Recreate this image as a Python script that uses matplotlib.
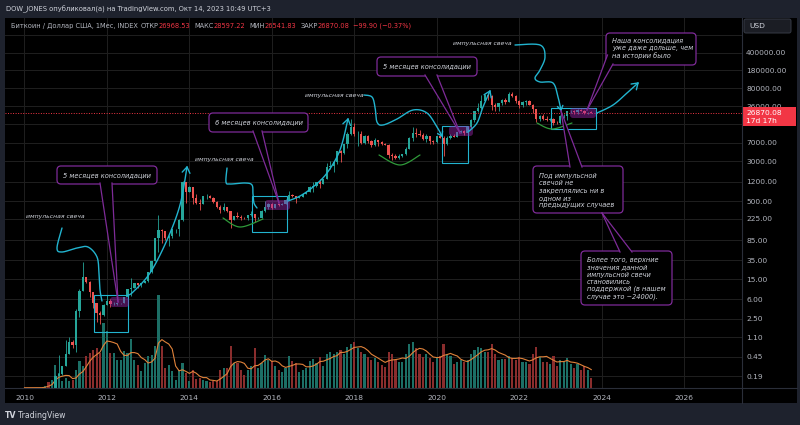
import numpy as np
import pandas as pd
import matplotlib
matplotlib.use("Agg")
import matplotlib.pyplot as plt
from matplotlib.patches import FancyBboxPatch, Rectangle, Polygon
from matplotlib.ticker import NullLocator

plt.rcParams['font.family'] = ['DejaVu Sans']

# ---------------- data (monthly candles, BTC/USD index) ----------------
START_MONTH = "2010-01-01"
opens = [0.003, 0.004, 0.004, 0.004, 0.005, 0.006,
         0.05, 0.07, 0.06, 0.06, 0.19, 0.21,
         0.30, 0.52, 0.86, 0.78, 3.50, 8.74, 16.10, 13.40, 8.20, 5.10, 3.25, 2.97,
         4.72, 5.50, 4.90, 4.90, 5.00, 5.15, 6.70, 9.35, 10.20, 12.40, 11.20, 12.60,
         13.50, 20.40, 33.40, 93.0, 139.0, 129.0, 97.0, 106.0, 141.0, 141.0, 211.0, 1205.0,
         757, 935, 573, 457, 447, 628, 640, 586, 480, 387, 338, 378,
         320, 217, 254, 244, 236, 230, 263, 285, 231, 236, 314, 377,
         430, 369, 437, 416, 448, 531, 673, 624, 573, 609, 700, 742,
         964, 970, 1190, 1080, 1348, 2300, 2480, 2875, 4703, 4338, 6468, 10233,
         14156, 10221, 10397, 6973, 9240, 7494, 6404, 7730, 7033, 6635, 6318, 4017,
         3742, 3457, 3854, 4105, 5350, 8574, 10817, 10086, 9630, 8293, 9199, 7569,
         7193, 9350, 8544, 6424, 8658, 9461, 9137, 11351, 11655, 10779, 13804, 19625,
         28949, 33114, 45137, 58918, 57750, 37332, 35040, 41626, 47166, 43790, 61318, 57005,
         46306, 38483, 43193, 45538, 37714, 31792, 19784, 23336, 20050, 19432, 20495, 17168,
         16548, 23139, 23147, 28478, 29268, 27219, 30477, 29230, 25940, 26968.53]
highs = [0.004, 0.005, 0.005, 0.006, 0.007, 0.06,
         0.10, 0.07, 0.07, 0.20, 0.50, 0.30,
         0.95, 1.10, 0.98, 3.90, 9.50, 31.90, 16.50, 13.50, 8.50, 5.20, 3.60, 4.80,
         7.40, 6.20, 5.40, 5.20, 5.20, 6.70, 9.70, 15.40, 12.70, 12.60, 12.80, 13.80,
         20.40, 33.40, 95.0, 266.0, 140.0, 130.0, 110.0, 141.0, 145.0, 220.0, 1242.0, 1156.0,
         1000, 940, 700, 545, 630, 680, 660, 600, 500, 415, 460, 380,
         320, 260, 300, 262, 247, 268, 318, 285, 245, 336, 500, 470,
         465, 443, 440, 467, 553, 780, 705, 627, 613, 720, 755, 975,
         1160, 1210, 1350, 1350, 2760, 3000, 2990, 4770, 5000, 6470, 11500, 19800,
         17200, 11800, 11700, 9800, 10000, 7760, 8500, 7760, 7400, 7000, 6600, 4400,
         4100, 4200, 4150, 5640, 9090, 13880, 13200, 12330, 10950, 10400, 9500, 7750,
         9600, 10500, 9200, 9470, 10070, 10430, 11440, 12480, 12080, 14100, 19880, 29300,
         41950, 58350, 61800, 64900, 59600, 41300, 42400, 50500, 52900, 67000, 69000, 59100,
         48000, 45800, 48200, 47500, 40000, 31900, 24700, 25200, 22800, 21100, 21450, 18400,
         23950, 25250, 29200, 31000, 29800, 31400, 31800, 30200, 27500, 28597.22]
lows = [0.003, 0.003, 0.004, 0.003, 0.004, 0.005,
        0.05, 0.06, 0.06, 0.06, 0.19, 0.20,
        0.30, 0.52, 0.68, 0.56, 2.70, 8.70, 12.50, 6.60, 4.10, 2.20, 2.00, 2.80,
        4.60, 4.20, 4.60, 4.70, 4.90, 5.20, 6.50, 7.10, 9.80, 9.80, 10.30, 12.30,
        13.20, 19.30, 33.0, 50.0, 77.0, 88.0, 66.0, 97.0, 119.0, 106.0, 204.0, 455.0,
        740, 430, 440, 340, 430, 560, 565, 450, 370, 290, 320, 310,
        152, 212, 236, 214, 228, 218, 253, 198, 224, 236, 310, 350,
        352, 363, 400, 413, 445, 525, 606, 470, 570, 607, 680, 740,
        750, 940, 890, 1060, 1340, 2130, 1830, 2670, 2970, 4150, 5500, 9700,
        9200, 5900, 6600, 6500, 7000, 5780, 6070, 5880, 6130, 6200, 3500, 3150,
        3350, 3400, 3700, 4080, 5330, 7500, 9100, 9350, 7700, 7300, 6530, 6430,
        6850, 8400, 3850, 6150, 8100, 8900, 8970, 11000, 9880, 10530, 13200, 17600,
        28000, 32300, 45000, 47000, 30000, 28800, 29300, 37300, 39600, 43300, 53300, 42000,
        32900, 34300, 37200, 37600, 26600, 17600, 18800, 19600, 18150, 18200, 15500, 16300,
        16500, 21400, 19600, 26950, 25800, 24800, 28900, 25200, 24900, 26541.83]
closes = [0.004, 0.004, 0.004, 0.005, 0.006, 0.05,
          0.07, 0.06, 0.06, 0.19, 0.21, 0.30,
          0.52, 0.86, 0.78, 3.50, 8.74, 16.10, 13.40, 8.20, 5.10, 3.25, 2.97, 4.72,
          5.50, 4.90, 4.90, 5.00, 5.15, 6.70, 9.35, 10.20, 12.40, 11.20, 12.60, 13.50,
          20.40, 33.40, 93.0, 139.0, 129.0, 97.0, 106.0, 141.0, 141.0, 211.0, 1205.0, 757.0,
          935, 573, 457, 447, 628, 640, 586, 480, 387, 338, 378, 320,
          217, 254, 244, 236, 230, 263, 285, 231, 236, 314, 377, 430,
          369, 437, 416, 448, 531, 673, 624, 573, 609, 700, 742, 964,
          970, 1190, 1080, 1348, 2300, 2480, 2875, 4703, 4338, 6468, 10233, 14156,
          10221, 10397, 6973, 9240, 7494, 6404, 7730, 7033, 6635, 6318, 4017, 3742,
          3457, 3854, 4105, 5350, 8574, 10817, 10086, 9630, 8293, 9199, 7569, 7193,
          9350, 8544, 6424, 8658, 9461, 9137, 11351, 11655, 10779, 13804, 19625, 28949,
          33114, 45137, 58918, 57750, 37332, 35040, 41626, 47166, 43790, 61318, 57005, 46306,
          38483, 43193, 45538, 37714, 31792, 19784, 23336, 20050, 19432, 20495, 17168, 16548,
          23139, 23147, 28478, 29268, 27219, 30477, 29230, 25940, 26967, 26870.08]
# relative volume units
volumes = [0.3, 0.3, 0.3, 0.3, 0.4, 0.5,
           2, 6, 8, 23, 15, 7,
           10, 7, 8, 18, 27, 22, 32, 35, 38, 40, 35, 65,
           57, 35, 35, 28, 28, 37, 35, 49, 28, 23, 17, 25,
           32, 33, 42, 93, 42, 20, 23, 17, 8, 18, 25, 15,
           7, 18, 9, 10, 8, 7, 6, 7, 7, 18, 20, 20,
           42, 25, 25, 18, 13, 18, 22, 40, 20, 25, 33, 28,
           27, 22, 18, 16, 20, 32, 27, 25, 16, 18, 20, 27,
           29, 25, 31, 22, 34, 36, 34, 36, 38, 34, 41, 44,
           46, 40, 36, 34, 31, 28, 30, 26, 23, 21, 36, 34,
           28, 26, 26, 34, 44, 46, 40, 34, 31, 34, 30, 26,
           31, 32, 44, 34, 32, 24, 26, 28, 26, 28, 34, 38,
           41, 40, 36, 36, 44, 34, 28, 29, 29, 32, 30, 28,
           31, 26, 26, 24, 34, 41, 31, 26, 26, 24, 32, 22,
           28, 26, 30, 24, 20, 24, 18, 22, 18, 10]

price_ticks = [0.19, 0.45, 1.10, 2.50, 6.00, 15.0, 35.0, 85.0, 225.0, 500.0, 1200.0,
               3000.0, 7000.0, 16000.0, 36000.0, 80000.0, 180000.0, 400000.0, 900000.0]
hidden_ticks = [16000.0, 900000.0]   # covered by the price label / currency box
year_ticks = [2010, 2012, 2014, 2016, 2018, 2020, 2022, 2024, 2026]
last_price = 26870.08
legend_parts = [("Биткоин / Доллар США, 1Мес, INDEX", "lbl", 3),
                ("ОТКР", "lbl", 0), ("26968.53", "val", 4),
                ("МАКС", "lbl", 0), ("28597.22", "val", 4),
                ("МИН", "lbl", 0), ("26541.83", "val", 4),
                ("ЗАКР", "lbl", 0), ("26870.08", "val", 3),
                ("−99.90 (−0.37%)", "val", 0)]

# ---------------- style ----------------
UP, DN = '#26a69a', '#ef5350'
VUP, VDN = '#1c6f66', '#8a2d2d'
CYAN, PURPLE, GREEN = '#22b4cf', '#7e2b98', '#2f9a3a'
TXT, AXT = '#d1d4dc', '#b2b5be'
W, H = 800, 425

fig = plt.figure(figsize=(8, 4.25), dpi=100, facecolor='#1e222d')

bg = fig.add_axes([0, 0, 1, 1], zorder=-10)
bg.set_xlim(0, W); bg.set_ylim(H, 0); bg.axis('off')
bg.add_patch(Rectangle((5, 18), 792, 385, fc='black', ec='none'))

rect = [5 / W, (H - 388) / H, 737 / W, 370 / H]
XL, XR = 2009.527, 2027.407
YB, YT = 0.1107, 1.91e6

months = pd.date_range(START_MONTH, periods=len(closes), freq='MS')
xs = np.asarray(months.year + (months.month - 1) / 12.0, float)
o = np.array(opens, float); c = np.array(closes, float)
hi = np.array(highs, float); lo = np.array(lows, float)
v = np.array(volumes, float)
up = c >= o

# grid axes
axg = fig.add_axes(rect, zorder=-5)
axg.set_facecolor('none')
axg.set_yscale('log'); axg.set_xlim(XL, XR); axg.set_ylim(YB, YT)
for t in price_ticks:
    axg.axhline(t, color='#1f1f1f', lw=0.7)
for yt in year_ticks:
    axg.axvline(yt, color='#1f1f1f', lw=0.7)
axg.axis('off')

# volume axes
axv = fig.add_axes(rect, zorder=0)
axv.set_facecolor('none')
axv.bar(xs, v, width=0.052, color=np.where(up, VUP, VDN), linewidth=0)
ma = pd.Series(v).rolling(5, min_periods=1).mean()
axv.plot(xs, ma, color='#e0823a', lw=0.8)
axv.set_xlim(XL, XR); axv.set_ylim(0, 370)
axv.axis('off')

# price axes
ax = fig.add_axes(rect, zorder=1)
ax.set_facecolor('none')
ax.set_yscale('log')
ax.set_xlim(XL, XR); ax.set_ylim(YB, YT)
col = np.where(up, UP, DN)
ax.vlines(xs, lo, hi, colors=col, lw=0.6)
blo = np.minimum(o, c); bhi = np.maximum(o, c)
bhi = np.maximum(bhi, blo * 1.012)
ax.bar(xs, bhi - blo, bottom=blo, width=0.055, color=col, linewidth=0)
ax.axhline(last_price, color='#f23645', lw=0.7, ls=(0, (1, 1.6)))
ax.yaxis.tick_right()
ax.set_yticks(price_ticks)
ax.set_yticklabels(["" if t in hidden_ticks else f"{t:.2f}" for t in price_ticks])
ax.yaxis.set_minor_locator(NullLocator())
ax.set_xticks(year_ticks)
ax.set_xticklabels([str(y) for y in year_ticks])
ax.xaxis.set_minor_locator(NullLocator())
ax.tick_params(axis='y', length=0, pad=3, labelsize=5.4, labelcolor=AXT)
ax.tick_params(axis='x', length=0, pad=5, labelsize=5.4, labelcolor=AXT)
for s in ax.spines.values():
    s.set_visible(False)

# ---------------- overlay (pixel coordinates) ----------------
ov = fig.add_axes([0, 0, 1, 1], zorder=10)
ov.set_xlim(0, W); ov.set_ylim(H, 0); ov.axis('off')

ov.plot([742, 742], [18, 403], color='#2a2e39', lw=0.8)
ov.plot([5, 797], [388, 388], color='#2a2e39', lw=0.8)


def catmull(pts, n=16):
    P = np.asarray(pts, float)
    P = np.vstack([P[0], P, P[-1]])
    t = np.linspace(0, 1, n)[:, None]
    segs = []
    for i in range(1, len(P) - 2):
        p0, p1, p2, p3 = P[i - 1], P[i], P[i + 1], P[i + 2]
        segs.append(0.5 * (2 * p1 + (-p0 + p2) * t + (2 * p0 - 5 * p1 + 4 * p2 - p3) * t ** 2
                           + (-p0 + 3 * p1 - 3 * p2 + p3) * t ** 3))
    return np.vstack(segs)


def curve(pts, color=CYAN, lw=1.0, head=False, L=7, ang=34):
    cv = catmull(pts)
    ov.plot(cv[:, 0], cv[:, 1], color=color, lw=lw, solid_capstyle='round')
    if head:
        tip = cv[-1]; prev = cv[-5]
        d = tip - prev; d = d / np.hypot(*d)
        for s in (1, -1):
            a = np.radians(s * ang)
            w = -d
            w = np.array([w[0] * np.cos(a) - w[1] * np.sin(a), w[0] * np.sin(a) + w[1] * np.cos(a)]) * L
            ov.plot([tip[0], tip[0] + w[0]], [tip[1], tip[1] + w[1]], color=color, lw=lw,
                    solid_capstyle='round')


def callout(x0, y0, x1, y1, base, tip, lines, tx=None, ty=None, dy=7.4, center=False, fs=4.8):
    ov.add_patch(FancyBboxPatch((x0, y0), x1 - x0, y1 - y0,
                                boxstyle='round,pad=0,rounding_size=4',
                                fc='black', ec=PURPLE, lw=0.9, zorder=5))
    ov.add_patch(Polygon([base[0], tip, base[1]], closed=True, fc='black', ec='none', zorder=6))
    for b in base:
        ov.plot([b[0], tip[0]], [b[1], tip[1]], color=PURPLE, lw=0.9, zorder=7)
    if center:
        ov.text((x0 + x1) / 2, (y0 + y1) / 2, lines[0], color=TXT, fontsize=fs, style='italic',
                ha='center', va='center', zorder=8)
    else:
        for k, ln in enumerate(lines):
            ov.text(tx, ty + k * dy, ln, color=TXT, fontsize=fs, style='italic',
                    ha='left', va='center', zorder=8)


def crect(x0, y0, x1, y1):
    ov.add_patch(Rectangle((x0, y0), x1 - x0, y1 - y0, fc='none', ec=CYAN, lw=0.8))


def hilite(x0, y0, x1, y1):
    ov.add_patch(FancyBboxPatch((x0, y0), x1 - x0, y1 - y0, boxstyle='round,pad=0,rounding_size=3',
                                fc='#9c27b0', ec='none', alpha=0.45))


def impulse(x, y):
    ov.text(x, y, "импульсная свеча", color=TXT, fontsize=4.4, style='italic', ha='center', va='center')


# consolidation rectangles and highlights
crect(94, 295, 128, 332); hilite(110, 297, 129, 307)
crect(252, 196, 287, 232); hilite(265, 200, 290, 210)
crect(442, 126, 468, 163); hilite(449, 126, 473, 136)
crect(551, 108, 596, 129); hilite(570, 108, 596, 118)

# green arcs
curve([(223, 218), (240, 227), (263, 219)], color=GREEN, lw=0.9)
curve([(379, 155), (400, 165), (420, 155)], color=GREEN, lw=0.9)
curve([(537, 123), (552, 129), (572, 123)], color=GREEN, lw=0.9)

# impulse arrows
curve([(128, 295), (133, 292), (150, 273), (167, 240), (180, 205), (187, 167)], head=True)
curve([(288, 201), (300, 196), (313, 187), (327, 173), (340, 150), (348, 119)], head=True)
curve([(468, 132), (477, 123), (483, 107), (490, 91)], head=True)
curve([(597, 113), (613, 105), (627, 93), (638, 83)], head=True)

# hand-drawn pointers
impulse(55, 216)
curve([(62, 228), (57, 248), (62, 252), (77, 248), (88, 247), (97, 257), (99, 273), (100, 290), (102, 301)])
impulse(224, 160)
curve([(227, 168), (226, 182), (230, 184), (245, 183), (252, 185), (253, 194), (254, 203), (257, 208)])
impulse(334, 95)
curve([(364, 95), (372, 97), (375, 107), (377, 122), (383, 125), (397, 119), (413, 110), (427, 113),
       (437, 127), (442, 136)], head=True, L=5)
impulse(482, 43)
curve([(515, 45), (540, 45), (545, 57), (540, 70), (535, 78), (540, 82), (553, 83), (558, 97), (561, 110)],
      head=True, L=5)

# callouts
callout(57, 166, 157, 184, [(100, 183), (112, 183)], (118, 302), ["5 месяцев консолидации"], center=True)
callout(209, 113, 308, 132, [(253, 131), (262, 131)], (279, 203), ["6 месяцев консолидации"], center=True)
callout(377, 57, 477, 76, [(425, 75), (437, 75)], (460, 133), ["5 месяцев консолидации"], center=True)
callout(606, 33, 696, 65, [(607.5, 55), (613, 64)], (587, 110),
        ["Наша консолидация", "уже даже дольше, чем", "на истории было"], tx=612, ty=40, dy=8)
callout(533, 166, 623, 213, [(570, 167), (582, 167)], (561, 111),
        ["Под импульсной", "свечой не", "закреплялись ни в", "одном из", "предыдущих случаев"],
        tx=539, ty=176, dy=7.3)
callout(581, 251, 672, 305, [(620, 252), (632, 252)], (602, 213),
        ["Более того, верхние", "значения данной", "импульсной свечи", "становились",
         "поддержкой (в нашем", "случае это ~24000)."], tx=587, ty=260, dy=7.3)

# price label and USD box
ov.add_patch(Rectangle((742, 107), 54, 19, fc='#f23645', ec='none'))
ov.text(746, 112.5, f"{last_price:.2f}", color='white', fontsize=5.4, va='center', ha='left')
ov.text(746, 120.5, "17d 17h", color='white', fontsize=5.4, va='center', ha='left')
ov.add_patch(FancyBboxPatch((744, 19), 47, 14, boxstyle='round,pad=0,rounding_size=2',
                            fc='#1b1d24', ec='#363a45', lw=0.7))
ov.text(749, 26, "USD", color=TXT, fontsize=5.4, va='center', ha='left')

# header texts
ov.text(6, 9.5, "DOW_JONES опубликовал(а) на TradingView.com, Окт 14, 2023 10:49 UTC+3",
        color=TXT, fontsize=4.85, va='center', ha='left')
ov.text(5, 415, "TV", color=TXT, fontsize=5.6, fontweight='bold', va='center', ha='left')
ov.text(18, 415, "TradingView", color=TXT, fontsize=5.6, va='center', ha='left')

fig.canvas.draw()
r = fig.canvas.get_renderer()
xpos = 11
for txt, kind, gap in legend_parts:
    t = ov.text(xpos, 26, txt, color=(AXT if kind == "lbl" else '#f23645'), fontsize=4.8,
                va='center', ha='left')
    bb = t.get_window_extent(renderer=r)
    xpos += bb.width + gap

fig.savefig("out.png", dpi=100, facecolor=fig.get_facecolor())
